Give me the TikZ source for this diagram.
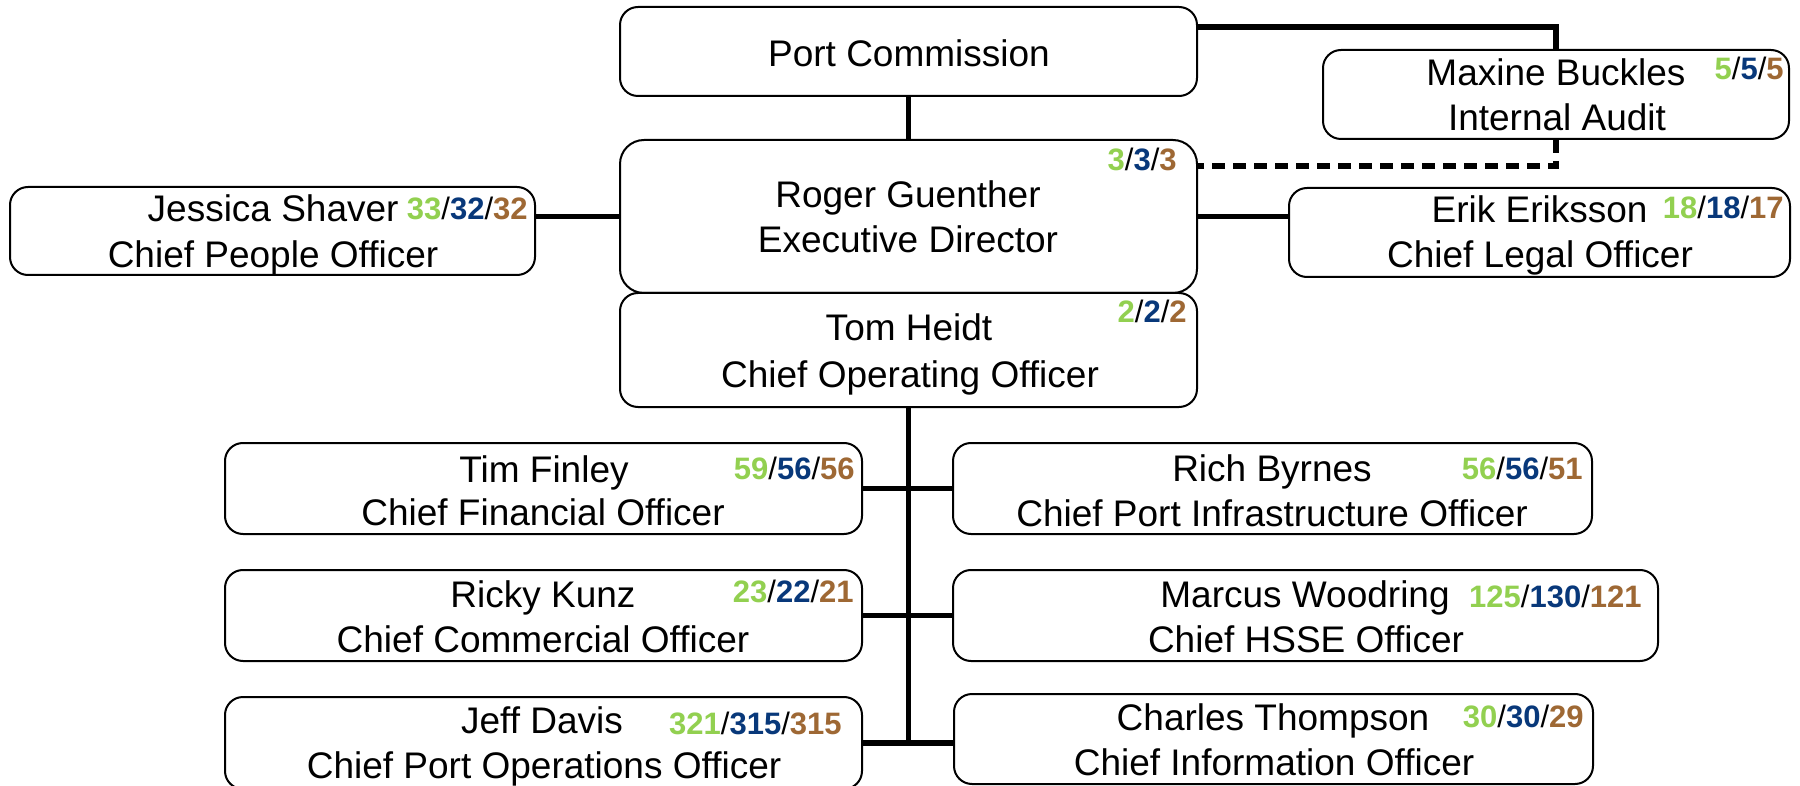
\documentclass[tikz,border=0pt]{standalone}
\usepackage{fontspec}
\setmainfont{Liberation Sans}
\usetikzlibrary{fit,calc}
\definecolor{cg}{RGB}{146,208,80}
\definecolor{cb}{RGB}{8,56,122}
\definecolor{cr}{RGB}{158,104,52}
\newcommand{\hc}[3]{\textbf{\color{cg}#1}/\textbf{\color{cb}#2}/\textbf{\color{cr}#3}}
\begin{document}
\begin{tikzpicture}[x=0.5pt,y=-0.5pt,
  box/.style={draw=black,line width=1pt,rounded corners=9pt,inner sep=0pt,fill=white},
  conn/.style={line width=2.6pt,black},
  txt/.style={inner sep=0pt,anchor=base,font=\fontsize{18.5pt}{22pt}\selectfont},
  num/.style={inner sep=0pt,anchor=base east,font=\fontsize{15.5pt}{18pt}\selectfont}]
\useasboundingbox (0,0) rectangle (1800,786);
% boxes
\node[box,fit={(620,7) (1197,96)}] (pc) {};
\node[box,rounded corners=12pt,fit={(620,140) (1197,293)}] (rg) {};
\node[box,fit={(1323,50) (1789,139)}] (mb) {};
\node[box,fit={(1289,188) (1790,277)}] (ee) {};
\node[box,fit={(10,187) (535,275)}] (js) {};
\node[box,fit={(620,293) (1197,407)}] (th) {};
\node[box,fit={(225,443) (862,534)}] (tf) {};
\node[box,fit={(953,443) (1592,534)}] (rb) {};
\node[box,fit={(225,570) (862,661)}] (rk) {};
\node[box,fit={(953,570) (1658,661)}] (mw) {};
\node[box,fit={(225,697) (862,789)}] (jd) {};
\node[box,fit={(954,694) (1593,784)}] (ct) {};
% connectors
\draw[conn] (pc.south) -- (rg.north);
\draw[conn] ($(pc.north east)+(0,21)$) -| (mb.north);
\draw[conn,dash pattern=on 6.5pt off 4pt] (mb.south) |- ($(rg.north east)+(0,27)$);
\draw[conn] (rg.east) -- (rg.east -| ee.west);
\draw[conn] (rg.west) -- (rg.west -| js.east);
\coordinate (tend) at (th.south |- jd.east);
\draw[conn] (th.south) -- (tend);
\draw[conn] (tf.east) -- (rb.west);
\draw[conn] (rk.east) -- (mw.west);
\draw[conn] (jd.east) -- (jd.east -| ct.west);
% texts
\node[txt] (t1) at (909,67) {Port Commission};
\node[txt] (t2) at (908,208) {Roger Guenther};
\node[txt] (t3) at (908,253) {Executive Director};
\node[num] (n1) at (1177,171) {\hc{3}{3}{3}};
\node[txt] (t4) at (1556,86) {Maxine Buckles};
\node[num] (n2) at (1784,80) {\hc{5}{5}{5}};
\node[txt] (t5) at (1557,131) {Internal Audit};
\node[txt,anchor=base east] (t6) at (1648,223) {Erik Eriksson};
\node[num] (n3) at (1784,219) {\hc{18}{18}{17}};
\node[txt] (t7) at (1540,268) {Chief Legal Officer};
\node[txt,anchor=base east] (t8) at (399,222) {Jessica Shaver};
\node[num] (n4) at (528,220) {\hc{33}{32}{32}};
\node[txt] (t9) at (273,268) {Chief People Officer};
\node[txt] (t10) at (909,341) {Tom Heidt};
\node[txt] (t11) at (910,387) {Chief Operating Officer};
\node[num] (n5) at (1187,322) {\hc{2}{2}{2}};
\node[txt] (t12) at (544,482) {Tim Finley};
\node[num] (n6) at (855,479) {\hc{59}{56}{56}};
\node[txt] (t13) at (543,525) {Chief Financial Officer};
\node[txt] (t14) at (543,607) {Ricky Kunz};
\node[num] (n7) at (854,602) {\hc{23}{22}{21}};
\node[txt] (t15) at (543,652) {Chief Commercial Officer};
\node[txt] (t16) at (542,733) {Jeff Davis};
\node[num] (n8) at (842,734) {\hc{321}{315}{315}};
\node[txt] (t17) at (544,778) {Chief Port Operations Officer};
\node[txt] (t18) at (1272,481) {Rich Byrnes};
\node[num] (n9) at (1583,479) {\hc{56}{56}{51}};
\node[txt] (t19) at (1272,526) {Chief Port Infrastructure Officer};
\node[txt] (t20) at (1305,607) {Marcus Woodring};
\node[num] (n10) at (1642,607) {\hc{125}{130}{121}};
\node[txt] (t21) at (1306,652) {Chief HSSE Officer};
\node[txt] (t22) at (1273,730) {Charles Thompson};
\node[num] (n11) at (1584,727) {\hc{30}{30}{29}};
\node[txt] (t23) at (1274,775) {Chief Information Officer};
\end{tikzpicture}
\end{document}
